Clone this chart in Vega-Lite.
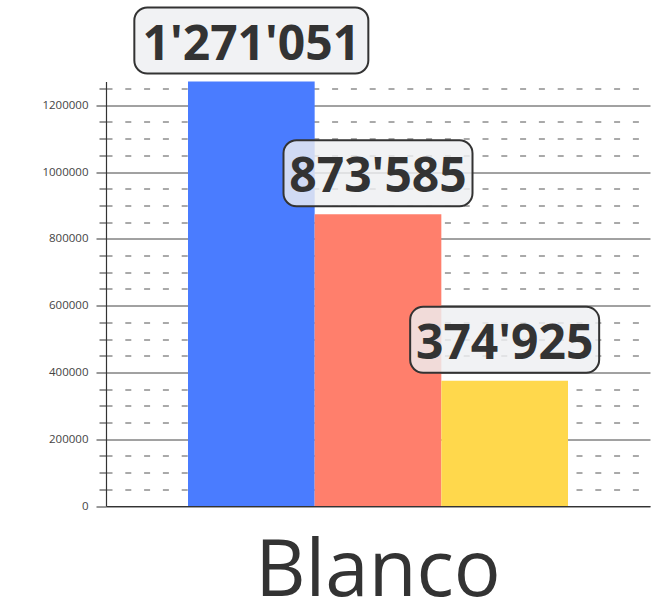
{
  "$schema": "https://vega.github.io/schema/vega-lite/v6.json",
  "autosize": "none",
  "width": 544,
  "height": 424.5,
  "padding": {"left": 106, "top": 81.5, "right": 17, "bottom": 100},
  "background": "white",
  "config": {
    "view": {"stroke": null},
    "locale": {"number": {"decimal": ".", "thousands": "'", "grouping": [3], "currency": ["", ""]}},
    "font": "Open Sans"
  },
  "data": {
    "values": [
      {"cat": "Blanco", "serie": "Serie 1", "value": 1271051},
      {"cat": "Blanco", "serie": "Serie 2", "value": 873585},
      {"cat": "Blanco", "serie": "Serie 3", "value": 374925}
    ]
  },
  "encoding": {
    "x": {
      "field": "cat",
      "type": "nominal",
      "scale": {"paddingInner": 0, "paddingOuter": 0.2158},
      "axis": {
        "title": null,
        "ticks": false,
        "tickSize": 0,
        "labelFontSize": 78,
        "labelFont": "Open Sans",
        "labelColor": "#333333",
        "labelLimit": 0,
        "labelAngle": 0,
        "labelBaseline": "alphabetic",
        "labelPadding": 89,
        "domainColor": "#333333",
        "domainWidth": 1.2,
        "grid": false
      }
    },
    "xOffset": {
      "field": "serie",
      "type": "nominal",
      "scale": {"paddingInner": 0, "paddingOuter": 0}
    },
    "y": {
      "field": "value",
      "type": "quantitative",
      "scale": {"domain": [0, 1271051], "nice": false, "zero": true},
      "axis": {
        "title": null,
        "values": [0, 50000, 100000, 150000, 200000, 250000, 300000, 350000, 400000, 450000, 500000, 550000, 600000, 650000, 700000, 750000, 800000, 850000, 900000, 950000, 1000000, 1050000, 1100000, 1150000, 1200000, 1250000],
        "format": "d",
        "labelExpr": "datum.value % 200000 === 0 ? datum.label : ''",
        "labelFontSize": 11.5,
        "labelFont": "Open Sans",
        "labelColor": "#444444",
        "labelPadding": 8,
        "domainColor": "#333333",
        "domainWidth": 1.2,
        "tickColor": "#333333",
        "tickSize": {"condition": {"test": "datum.value % 200000 === 0", "value": 10}, "value": 7},
        "grid": true,
        "gridColor": {"condition": {"test": "datum.value % 200000 === 0", "value": "#444444"}, "value": "#555555"},
        "gridDash": {"condition": {"test": "datum.value % 200000 === 0", "value": []}, "value": [6, 12.8]},
        "gridWidth": 1,
        "labelOverlap": false
      }
    }
  },
  "layer": [
    {
      "mark": {"type": "bar"},
      "encoding": {
        "color": {
          "field": "serie",
          "type": "nominal",
          "scale": {"domain": ["Serie 1", "Serie 2", "Serie 3"], "range": ["#4a7cff", "#ff7f6c", "#ffd84c"]},
          "legend": null
        }
      }
    },
    {
      "transform": [{"filter": "datum.serie === 'Serie 1'"}],
      "mark": {"type": "rect", "width": 234, "height": 66, "yOffset": -41, "cornerRadius": 13, "fill": "#eeeff1", "fillOpacity": 0.82, "stroke": "#333333", "strokeWidth": 2}
    },
    {
      "transform": [{"filter": "datum.serie !== 'Serie 1'"}],
      "mark": {"type": "rect", "width": 189, "height": 66, "yOffset": -41, "cornerRadius": 13, "fill": "#eeeff1", "fillOpacity": 0.82, "stroke": "#333333", "strokeWidth": 2}
    },
    {
      "mark": {"type": "text", "font": "Open Sans", "fontWeight": "bold", "fontSize": 48, "color": "#333333", "baseline": "alphabetic", "align": "center", "yOffset": -22},
      "encoding": {
        "text": {"field": "value", "type": "quantitative", "format": ","}
      }
    }
  ]
}
